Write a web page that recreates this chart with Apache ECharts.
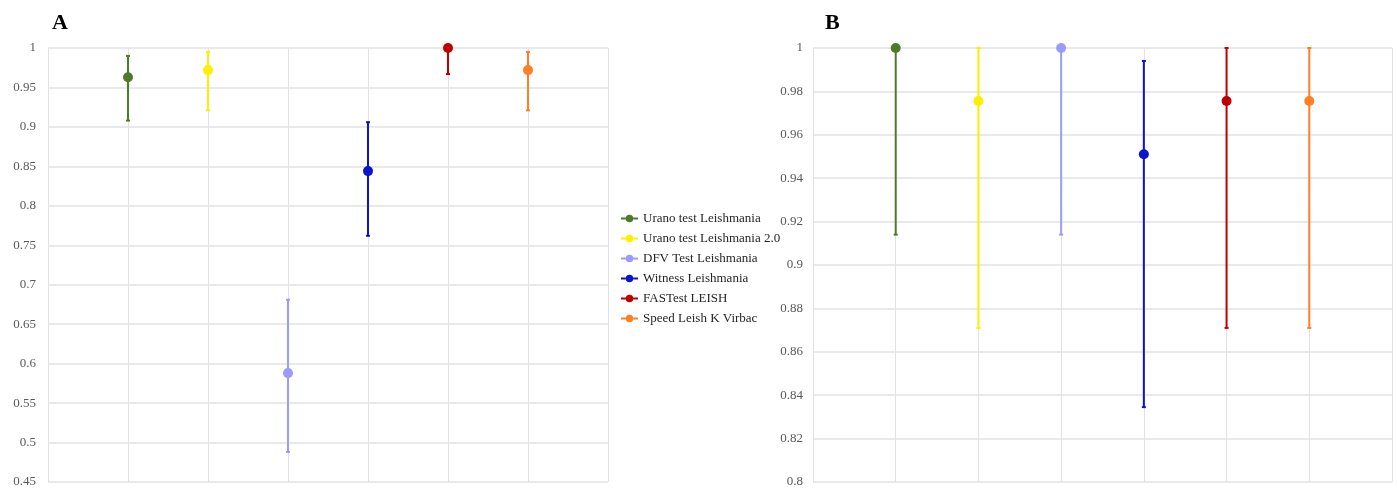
<!DOCTYPE html>
<html>
<head>
<meta charset="utf-8">
<script src="https://cdn.jsdelivr.net/npm/echarts@6/dist/echarts.min.js"></script>
<style>
  html, body { margin: 0; padding: 0; background: #fff; }
  #chart { width: 1397px; height: 489px; }
</style>
</head>
<body>
<div id="chart"></div>
<script>
// test names and their x slot
const tests = ['Urano test Leishmania', 'Urano test Leishmania 2.0', 'DFV Test Leishmania', 'Witness Leishmania', 'FASTest LEISH', 'Speed Leish K Virbac']
const slots = [1, 2, 3, 4, 5, 6]

// panel A
const aMean = [0.963, 0.972, 0.588, 0.844, 1.0, 0.972]
const aLow = [0.908, 0.921, 0.488, 0.762, 0.967, 0.921]
const aHigh = [0.990, 0.995, 0.681, 0.906, 1.0, 0.995]

// panel B
const bMean = [1.0, 0.9756, 1.0, 0.951, 0.9756, 0.9756]
const bLow = [0.914, 0.871, 0.914, 0.8345, 0.871, 0.871]
const bHigh = [1.0, 1.0, 1.0, 0.994, 1.0, 1.0]

const colors = ['#4f7a28', '#ffee00', '#9a9aff', '#0a14cc', '#c00000', '#ff7f27']

const font = 'Liberation Serif'
const gridColor = '#e2e2e2'

const errorBar = (params, api) => {
  const x = api.value(0)
  const lo = api.coord([x, api.value(1)])
  const hi = api.coord([x, api.value(2)])
  const color = api.visual('color')
  const st = { stroke: color, lineWidth: 2 }
  return {
    type: 'group',
    children: [
      { type: 'line', shape: { x1: lo[0], y1: lo[1], x2: hi[0], y2: hi[1] }, style: st },
      { type: 'line', shape: { x1: lo[0] - 2, y1: lo[1], x2: lo[0] + 2, y2: lo[1] }, style: st },
      { type: 'line', shape: { x1: hi[0] - 2, y1: hi[1], x2: hi[0] + 2, y2: hi[1] }, style: st },
    ],
  }
}

const series = []
const addPanel = (idx, mean, low, high) => {
  tests.forEach((name, i) => {
    series.push({
      name,
      type: 'custom',
      xAxisIndex: idx,
      yAxisIndex: idx,
      itemStyle: { color: colors[i] },
      renderItem: errorBar,
      clip: false,
      data: [[slots[i], low[i], high[i]]],
      z: 2,
    })
    series.push({
      name,
      type: 'scatter',
      xAxisIndex: idx,
      yAxisIndex: idx,
      symbolSize: 10,
      itemStyle: { color: colors[i], opacity: 1 },
      clip: false,
      data: [[slots[i], mean[i]]],
      z: 3,
    })
  })
}
addPanel(0, aMean, aLow, aHigh)
addPanel(1, bMean, bLow, bHigh)

const xAxisCommon = {
  type: 'value',
  min: 0,
  max: 7,
  interval: 1,
  axisLabel: { show: false },
  axisTick: { show: false },
  axisLine: { show: false },
  splitLine: { show: true, lineStyle: { color: gridColor, width: 1 } },
}

const yAxisCommon = {
  type: 'value',
  axisTick: { show: false },
  axisLine: { show: false },
  splitLine: { show: true, lineStyle: { color: gridColor, width: 1.5 } },
}

const chart = echarts.init(document.getElementById('chart'))
chart.setOption({
  animation: false,
  backgroundColor: '#fff',
  title: [
    { text: 'A', left: 47, top: 7, textStyle: { fontFamily: font, fontWeight: 'bold', fontSize: 22, color: '#000' } },
    { text: 'B', left: 820, top: 7, textStyle: { fontFamily: font, fontWeight: 'bold', fontSize: 22, color: '#000' } },
  ],
  grid: [
    { left: 48, top: 48, width: 560, height: 434 },
    { left: 813, top: 48, width: 579, height: 434 },
  ],
  xAxis: [
    { ...xAxisCommon, gridIndex: 0 },
    { ...xAxisCommon, gridIndex: 1 },
  ],
  yAxis: [
    {
      ...yAxisCommon,
      gridIndex: 0,
      min: 0.45,
      max: 1,
      interval: 0.05,
      axisLabel: { margin: 12, fontFamily: font, fontSize: 13, color: '#595959', formatter: (v) => String(+v.toFixed(2)) },
    },
    {
      ...yAxisCommon,
      gridIndex: 1,
      min: 0.8,
      max: 1,
      interval: 0.02,
      axisLabel: { margin: 10, fontFamily: font, fontSize: 13, color: '#595959', formatter: (v) => String(+v.toFixed(2)) },
    },
  ],
  legend: {
    orient: 'vertical',
    left: 616,
    top: 206,
    data: tests,
    icon: 'path://M0,3h5v2h-5z M13,3h5v2h-5z M5,4a4,4 0 1,0 8,0a4,4 0 1,0 -8,0z',
    itemWidth: 17,
    itemHeight: 8,
    itemGap: 5,
    textStyle: { fontFamily: font, fontSize: 13, color: '#262626', lineHeight: 15 },
    selectedMode: false,
  },
  series,
})
</script>
</body>
</html>
